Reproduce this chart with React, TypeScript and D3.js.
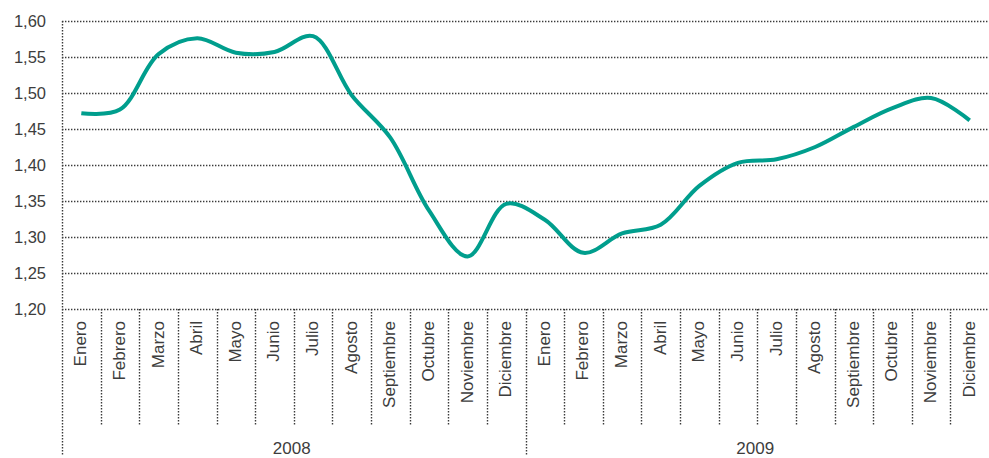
import React, { useEffect, useRef } from 'react';
import * as d3 from 'd3';

const months = ['Enero', 'Febrero', 'Marzo', 'Abril', 'Mayo', 'Junio', 'Julio', 'Agosto', 'Septiembre', 'Octubre', 'Noviembre', 'Diciembre'];
const years = ['2008', '2009'];

const values2008 = [1.472, 1.477, 1.554, 1.576, 1.556, 1.557, 1.579, 1.497, 1.438, 1.337, 1.273, 1.346];
const values2009 = [1.324, 1.278, 1.305, 1.317, 1.371, 1.403, 1.408, 1.425, 1.453, 1.479, 1.493, 1.462];

const yTicks = [1.2, 1.25, 1.3, 1.35, 1.4, 1.45, 1.5, 1.55, 1.6];

const width = 989;
const height = 458;
const margin = { top: 21, right: 0, bottom: 149, left: 62 };

const App = () => {
  const ref = useRef<SVGSVGElement>(null);

  useEffect(() => {
    const svg = d3.select(ref.current);
    svg.selectAll('*').remove();

    const data = [...values2008, ...values2009].map((v, i) => ({ key: `${i}`, month: months[i % 12], value: v }));

    const plotW = width - margin.left - margin.right;
    const plotH = height - margin.top - margin.bottom;

    const x = d3.scaleBand<string>()
      .domain(data.map(d => d.key))
      .range([margin.left, margin.left + plotW])
      .padding(0);

    const y = d3.scaleLinear()
      .domain([1.2, 1.6])
      .range([margin.top + plotH, margin.top]);

    const yearX = d3.scaleBand<string>()
      .domain(years)
      .range([margin.left, margin.left + plotW]);

    const fmt = (v: number) => d3.format('.2f')(v).replace('.', ',');
    const font = "'Liberation Sans', Arial, sans-serif";
    const textColor = '#3d3d3d';
    const dotted = (sel: any) => sel
      .attr('stroke', '#3a3a3a')
      .attr('stroke-width', 1.4)
      .attr('stroke-dasharray', '1.4,1.6')
      .attr('fill', 'none');

    // horizontal grid lines
    svg.append('g')
      .selectAll('line')
      .data(yTicks)
      .enter().append('line')
      .attr('x1', margin.left)
      .attr('x2', width)
      .attr('y1', d => Math.round(y(d)) + 0.5)
      .attr('y2', d => Math.round(y(d)) + 0.5)
      .call(dotted);

    // y labels
    svg.append('g')
      .selectAll('text')
      .data(yTicks)
      .enter().append('text')
      .attr('x', margin.left - 16)
      .attr('y', d => y(d))
      .attr('dy', '0.35em')
      .attr('text-anchor', 'end')
      .style('font-family', font)
      .style('font-size', '16.5px')
      .style('fill', textColor)
      .text(d => fmt(d));

    const bottom = margin.top + plotH;

    // month separators
    svg.append('g')
      .selectAll('line')
      .data(data.slice(1))
      .enter().append('line')
      .attr('x1', d => Math.round(x(d.key)!) + 0.5)
      .attr('x2', d => Math.round(x(d.key)!) + 0.5)
      .attr('y1', bottom)
      .attr('y2', (d, i) => (i + 1) % 12 === 0 ? 455 : 425)
      .call(dotted);

    // left axis line
    svg.append('line')
      .attr('x1', margin.left + 0.5)
      .attr('x2', margin.left + 0.5)
      .attr('y1', margin.top)
      .attr('y2', 455)
      .call(dotted);

    // month labels
    svg.append('g')
      .selectAll('text')
      .data(data)
      .enter().append('text')
      .attr('transform', d => `translate(${x(d.key)! + x.bandwidth() / 2 - 1}, ${bottom + 12}) rotate(-90)`)
      .attr('dy', '0.35em')
      .attr('text-anchor', 'end')
      .style('font-family', font)
      .style('font-size', '17px')
      .style('fill', textColor)
      .text(d => d.month);

    // year labels
    svg.append('g')
      .selectAll('text')
      .data(years)
      .enter().append('text')
      .attr('x', d => yearX(d)! + yearX.bandwidth() / 2 - 2)
      .attr('y', 448)
      .attr('dy', '0.35em')
      .attr('text-anchor', 'middle')
      .style('font-family', font)
      .style('font-size', '17px')
      .style('fill', textColor)
      .text(d => d);

    // the line
    const line = d3.line<any>()
      .x(d => x(d.key)! + x.bandwidth() / 2)
      .y(d => y(d.value))
      .curve(d3.curveCatmullRom.alpha(0.5));

    svg.append('path')
      .datum(data)
      .attr('d', line)
      .attr('fill', 'none')
      .attr('stroke', '#009e8d')
      .attr('stroke-width', 4)
      .attr('stroke-linejoin', 'round');
  }, []);

  return (
    <svg
      ref={ref}
      width={width}
      height={height}
      style={{ position: 'absolute', left: 0, top: 0, background: '#fff' }}
    />
  );
};

export default App;
